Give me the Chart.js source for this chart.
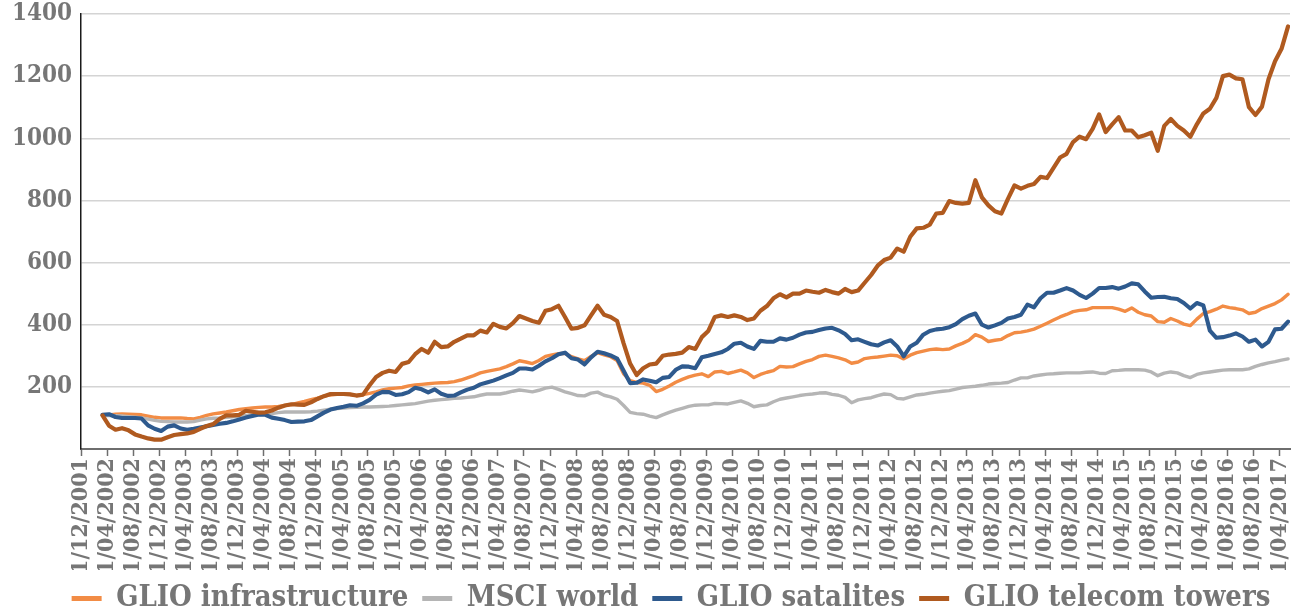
<!DOCTYPE html>
<html>
<head>
<meta charset="utf-8">
<script src="https://cdn.jsdelivr.net/npm/chart.js@4.4.1/dist/chart.umd.min.js"></script>
<style>
  html, body { margin: 0; padding: 0; background: #ffffff; overflow: hidden; }
  #wrap { width: 1292px; height: 614px; position: relative; }
</style>
</head>
<body>
<div id="wrap"><canvas id="c"></canvas></div>
<script>
// X-axis tick labels (every 4 months, as printed on the reference)
const tickLabels = [
  "1/12/2001","1/04/2002","1/08/2002","1/12/2002","1/04/2003","1/08/2003","1/12/2003",
  "1/04/2004","1/08/2004","1/12/2004","1/04/2005","1/08/2005","1/12/2005",
  "1/04/2006","1/08/2006","1/12/2006","1/04/2007","1/08/2007","1/12/2007",
  "1/04/2008","1/08/2008","1/12/2008","1/04/2009","1/08/2009","1/12/2009",
  "1/04/2010","1/08/2010","1/12/2010","1/04/2011","1/08/2011","1/12/2011",
  "1/04/2012","1/08/2012","1/12/2012","1/04/2013","1/08/2013","1/12/2013",
  "1/04/2014","1/08/2014","1/12/2014","1/04/2015","1/08/2015","1/12/2015",
  "1/04/2016","1/08/2016","1/08/2016","1/04/2017"
];

// Series names
const seriesNames = ["GLIO infrastructure", "MSCI world", "GLIO satalites", "GLIO telecom towers"];

const infrastructure = [
  108,110,112,113,112,111,110,106,102,100,100,100,100,98,97,102,108,113,116,119,
  123,127,130,132,134,135,135,137,140,143,148,153,159,164,170,174,176,177,176,172,
  175,179,184,190,194,196,198,203,206,208,210,212,213,214,217,222,229,236,245,250,
  254,258,265,274,284,280,275,285,298,303,307,308,297,290,284,298,310,303,297,285,
  242,220,214,212,205,185,192,203,215,224,232,238,242,233,248,250,243,248,254,245,
  230,240,247,252,266,264,265,274,282,288,298,302,298,293,287,276,280,291,294,296,
  299,302,300,290,302,310,315,320,322,320,322,332,340,350,368,360,346,350,353,365,
  374,376,380,386,395,405,415,425,433,442,446,448,455,455,455,455,450,443,454,440,
  432,428,410,408,420,412,402,397,418,436,442,450,460,455,452,448,436,440,452,460,
  468,480,498
];
const msciWorld = [
  108,108,107,106,104,102,100,96,92,89,88,87,87,87,88,93,97,99,100,102,
  104,106,108,110,111,112,114,117,119,119,119,119,120,122,125,128,130,132,133,134,
  135,135,136,137,138,140,142,144,146,150,154,157,159,161,163,164,166,168,173,177,
  177,177,181,186,190,187,184,189,196,199,192,184,178,172,171,180,183,173,168,160,
  140,118,114,112,106,101,110,118,125,131,137,141,142,142,147,146,145,150,155,147,
  136,140,142,152,160,164,168,172,175,177,180,181,176,173,166,149,158,162,165,172,
  177,175,163,161,168,174,176,180,183,186,188,193,198,200,202,205,209,211,212,214,
  222,229,229,235,238,241,242,244,245,245,245,247,248,244,243,252,253,255,255,255,
  254,248,236,244,248,245,236,230,240,245,248,251,254,255,255,255,258,266,272,277,
  281,286,290
];
const satalites = [
  110,112,103,100,100,100,98,76,65,58,72,76,66,62,65,69,73,77,81,84,
  89,95,101,106,111,110,101,97,93,87,88,89,93,105,117,127,132,136,141,139,
  147,158,175,184,183,174,176,183,197,192,182,192,178,171,172,182,191,197,208,214,
  220,228,237,245,259,259,256,268,282,292,305,310,292,288,272,295,313,308,301,291,
  252,212,213,224,220,215,229,232,255,266,265,260,295,300,306,311,322,339,342,330,
  322,348,345,345,356,352,358,368,375,377,383,388,390,382,370,350,353,345,337,333,
  343,350,330,298,330,342,368,380,385,387,392,402,418,429,436,400,391,398,406,420,
  425,432,465,456,485,503,503,510,518,510,496,486,500,518,518,521,516,523,533,530,
  507,487,489,490,485,483,470,452,470,462,381,358,360,365,372,362,345,352,330,345,
  385,387,410
];
const telecomTowers = [
  108,75,62,67,60,47,40,34,30,30,38,45,48,50,55,65,74,80,97,108,
  108,110,123,120,117,118,124,133,140,144,143,142,150,161,170,177,177,177,176,172,
  175,205,232,245,252,248,274,280,305,322,310,345,328,330,345,355,366,366,381,375,
  403,393,388,405,428,420,412,406,445,450,461,425,387,390,398,430,461,432,425,412,
  340,275,238,260,272,275,300,304,306,310,328,322,360,380,425,430,425,430,425,415,
  420,445,460,485,498,488,500,500,510,506,503,512,505,500,515,505,510,535,560,590,
  608,616,645,635,683,710,712,722,758,760,798,792,790,792,865,810,784,765,758,805,
  848,838,847,853,876,872,905,938,950,988,1005,997,1030,1077,1020,1045,1068,1025,1025,1003,
  1010,1018,960,1040,1062,1040,1025,1005,1045,1080,1095,1130,1200,1205,1193,1190,1100,1075,1102,1190,
  1248,1288,1360
];

const seriesValues = [infrastructure, msciWorld, satalites, telecomTowers];
const seriesColors = ["#F28C45", "#B5B5B5", "#2E5A8E", "#B05A1F"];
const seriesWidths = [3.4, 3.4, 4.1, 4.2];

const yTicks = [0, 200, 400, 600, 800, 1000, 1200, 1400];

const FONT = "'DejaVu Serif Condensed', 'DejaVu Serif', serif";
const TEXT = "#767676";
const startOffset = 3.3; // months after 1/12/2001 of the first observation

const datasets = seriesValues.map((vals, s) => ({
  label: seriesNames[s],
  data: vals.map((v, i) => ({ x: startOffset + i, y: v })),
  borderColor: seriesColors[s],
  backgroundColor: seriesColors[s],
  borderWidth: seriesWidths[s],
  pointRadius: 0,
  pointHoverRadius: 0,
  tension: 0,
  fill: false,
  borderJoinStyle: 'round',
  borderCapStyle: 'round',
  order: 4 - s
}));

const legendShift = {
  id: 'legendShift',
  afterLayout(chart) {
    const l = chart.legend;
    if (l) { l.left += 26; l.right += 26; }
  }
};

new Chart(document.getElementById('c'), {
  type: 'line',
  data: { datasets },
  plugins: [legendShift],
  options: {
    responsive: true,
    maintainAspectRatio: false,
    animation: false,
    events: [],
    layout: { padding: { left: 0, right: 2, top: 14, bottom: -9 } },
    scales: {
      x: {
        type: 'linear',
        min: 0,
        max: 185.6,
        afterBuildTicks: (scale) => {
          scale.ticks = tickLabels.map((_, i) => ({ value: i * 4 }));
        },
        afterFit: (scale) => {
          scale.height = 121;
          scale.paddingLeft = 0;
          scale.paddingRight = 0;
        },
        ticks: {
          autoSkip: false,
          maxRotation: 90,
          minRotation: 90,
          padding: 2,
          color: TEXT,
          font: { family: FONT, size: 23, weight: 'bold' },
          callback: (v, i) => tickLabels[i]
        },
        grid: {
          drawOnChartArea: false,
          drawTicks: true,
          tickLength: 7,
          tickWidth: 1.5,
          color: '#6e6e6e'
        },
        border: { display: true, color: '#6e6e6e', width: 2 }
      },
      y: {
        min: 0,
        max: 1400,
        afterBuildTicks: (scale) => {
          scale.ticks = yTicks.map(v => ({ value: v }));
        },
        afterFit: (scale) => {
          scale.width = 81;
          scale.paddingTop = 0;
          scale.paddingBottom = 0;
        },
        ticks: {
          padding: 9,
          color: TEXT,
          font: { family: FONT, size: 24, weight: 'bold' },
          callback: (v) => (v === 0 ? '' : String(v))
        },
        grid: {
          drawTicks: false,
          lineWidth: 1.5,
          color: (ctx) => (ctx.tick && ctx.tick.value === 0 ? 'rgba(0,0,0,0)' : '#d4d4d4')
        },
        border: { display: true, color: '#1a1a1a', width: 1.5 }
      }
    },
    plugins: {
      tooltip: { enabled: false },
      legend: {
        position: 'bottom',
        labels: {
          color: TEXT,
          font: { family: FONT, size: 29, weight: 'bold' },
          boxWidth: 30,
          boxHeight: 5,
          padding: 14,
          sort: (a, b) => a.datasetIndex - b.datasetIndex,
          generateLabels: (chart) => {
            const items = Chart.defaults.plugins.legend.labels.generateLabels(chart);
            return items.map(it => Object.assign(it, {
              lineWidth: 0,
              fillStyle: seriesColors[it.datasetIndex],
              strokeStyle: seriesColors[it.datasetIndex]
            }));
          }
        }
      }
    }
  }
});
</script>
</body>
</html>
